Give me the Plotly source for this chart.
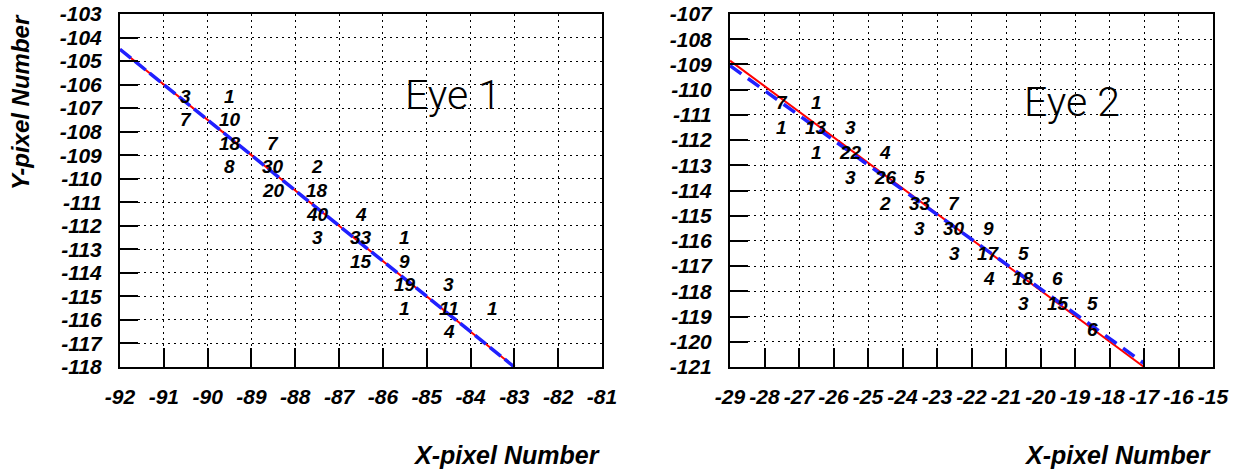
import plotly.graph_objects as go

# ---- Eye 1: pixel hit counts (bin centres) and fitted tracks ----
eye1_x = [-90.5, -90.5, -89.5, -89.5, -89.5, -89.5, -88.5, -88.5, -88.5,
          -87.5, -87.5, -87.5, -87.5, -86.5, -86.5, -86.5,
          -85.5, -85.5, -85.5, -85.5, -84.5, -84.5, -84.5, -83.5]
eye1_y = [-106.5, -107.5, -106.5, -107.5, -108.5, -109.5, -108.5, -109.5, -110.5,
          -109.5, -110.5, -111.5, -112.5, -111.5, -112.5, -113.5,
          -112.5, -113.5, -114.5, -115.5, -114.5, -115.5, -116.5, -115.5]
eye1_counts = [3, 7, 1, 10, 18, 8, 7, 30, 20,
               2, 18, 40, 3, 4, 33, 15,
               1, 9, 19, 1, 3, 11, 4, 1]
eye1_fit_red_x = [-92, -83]
eye1_fit_red_y = [-104.5, -118]
eye1_fit_blue_x = [-92, -83]
eye1_fit_blue_y = [-104.5, -118]

# ---- Eye 2 ----
eye2_x = [-27.5, -26.5, -27.5, -26.5, -25.5, -26.5, -25.5, -24.5,
          -25.5, -24.5, -23.5, -24.5, -23.5, -22.5, -23.5, -22.5, -21.5,
          -22.5, -21.5, -20.5, -21.5, -20.5, -19.5, -20.5, -19.5, -18.5, -18.5]
eye2_y = [-110.5, -110.5, -111.5, -111.5, -111.5, -112.5, -112.5, -112.5,
          -113.5, -113.5, -113.5, -114.5, -114.5, -114.5, -115.5, -115.5, -115.5,
          -116.5, -116.5, -116.5, -117.5, -117.5, -117.5, -118.5, -118.5, -118.5, -119.5]
eye2_counts = [7, 1, 1, 13, 3, 1, 22, 4,
               3, 26, 5, 2, 33, 7, 3, 30, 9,
               3, 17, 5, 4, 18, 6, 3, 15, 5, 6]
eye2_fit_red_x = [-29, -17]
eye2_fit_red_y = [-108.85, -121]
eye2_fit_blue_x = [-29, -17]
eye2_fit_blue_y = [-109.05, -120.85]

x1_ticks = list(range(-92, -80))
y1_ticks = list(range(-118, -102))
x2_ticks = list(range(-29, -14))
y2_ticks = list(range(-121, -106))

FONT = "Liberation Sans, Arial, sans-serif"


def bi(s):
    return "<b><i>" + str(s) + "</i></b>"


fig = go.Figure()

for xs, ys, xa, ya in [(eye1_fit_red_x, eye1_fit_red_y, "x", "y"),
                       (eye2_fit_red_x, eye2_fit_red_y, "x2", "y2")]:
    fig.add_trace(go.Scatter(x=xs, y=ys, mode="lines", xaxis=xa, yaxis=ya,
                             line=dict(color="#ff0000", width=2), showlegend=False,
                             hoverinfo="skip"))
fig.add_trace(go.Scatter(x=eye1_fit_blue_x, y=eye1_fit_blue_y, mode="lines",
                         xaxis="x", yaxis="y", showlegend=False, hoverinfo="skip",
                         line=dict(color="#2020ff", width=3.5, dash="14px,5px")))
fig.add_trace(go.Scatter(x=eye2_fit_blue_x, y=eye2_fit_blue_y, mode="lines",
                         xaxis="x2", yaxis="y2", showlegend=False, hoverinfo="skip",
                         line=dict(color="#2020ff", width=3.5, dash="14px,8px")))

annotations = []
num_font = dict(family=FONT, size=19, color="black")
for xs, ys, cs, xr, yr in [(eye1_x, eye1_y, eye1_counts, "x", "y"),
                           (eye2_x, eye2_y, eye2_counts, "x2", "y2")]:
    for x, y, c in zip(xs, ys, cs):
        annotations.append(dict(x=x, y=y, xref=xr, yref=yr, text=bi(c),
                                showarrow=False, font=num_font,
                                xanchor="center", yanchor="middle"))

eye_font = dict(family="Roboto, Liberation Sans, sans-serif", size=41,
                color="black", weight=300)
annotations.append(dict(x=-84.4, y=-106.45, xref="x", yref="y", text="Eye 1",
                        showarrow=False, font=eye_font))
annotations.append(dict(x=-19.1, y=-110.5, xref="x2", yref="y2", text="Eye 2",
                        showarrow=False, font=eye_font))

title_font = dict(family=FONT, size=25, color="black")
annotations.append(dict(x=602 / 1233, y=1 - 455 / 469, xref="paper", yref="paper",
                        text=bi("X-pixel Number"), showarrow=False, font=title_font,
                        xanchor="right", yanchor="middle"))
annotations.append(dict(x=1213 / 1233, y=1 - 455 / 469, xref="paper", yref="paper",
                        text=bi("X-pixel Number"), showarrow=False, font=title_font,
                        xanchor="right", yanchor="middle"))
annotations.append(dict(x=20 / 1233, y=1 - 102 / 469, xref="paper", yref="paper",
                        text=bi("Y-pixel Number"), showarrow=False, textangle=-90,
                        font=dict(family=FONT, size=24, color="black"),
                        xanchor="center", yanchor="middle"))

tick_font_x = dict(family=FONT, size=21, color="black")
tick_font_y = dict(family=FONT, size=21, color="black")


def xaxis(rng, ticks, dom, anchor):
    return dict(range=rng, tickvals=ticks, ticktext=[bi(t) for t in ticks],
                domain=dom, anchor=anchor, automargin=False,
                showgrid=True, gridcolor="black",
                gridwidth=1, griddash="2px,4px", zeroline=False,
                showline=True, linecolor="black", linewidth=2, mirror=True,
                ticks="inside", ticklen=19, tickwidth=1.5, tickcolor="black",
                tickfont=tick_font_x, ticklabelstandoff=10)


def yaxis(rng, ticks, dom, anchor):
    return dict(range=rng, tickvals=ticks, ticktext=[bi(t) for t in ticks],
                domain=dom, anchor=anchor, automargin=False,
                showgrid=True, gridcolor="black",
                gridwidth=1, griddash="2px,4px", zeroline=False,
                showline=True, linecolor="black", linewidth=2, mirror=True,
                ticks="inside", ticklen=18, tickwidth=1.5, tickcolor="black",
                tickfont=tick_font_y, ticklabelstandoff=12)


ydom = [1 - 367 / 469, 1 - 14 / 469]
fig.update_layout(
    width=1233, height=469,
    margin=dict(l=0, r=0, t=0, b=0, autoexpand=False),
    paper_bgcolor="white", plot_bgcolor="white",
    xaxis=xaxis([-92, -81], x1_ticks, [120 / 1233, 602 / 1233], "y"),
    yaxis=yaxis([-118, -103], y1_ticks, ydom, "x"),
    xaxis2=xaxis([-29, -15], x2_ticks, [730 / 1233, 1213 / 1233], "y2"),
    yaxis2=yaxis([-121, -107], y2_ticks, ydom, "x2"),
    annotations=annotations,
    showlegend=False,
)

fig.write_html("out.html")
